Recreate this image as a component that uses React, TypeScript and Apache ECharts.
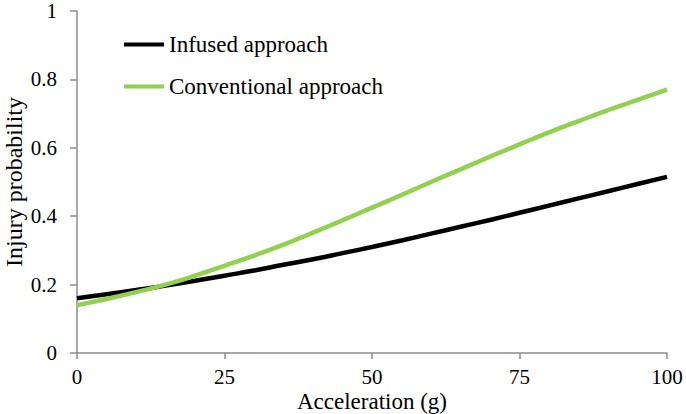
import React, { useEffect, useRef } from "react";
import * as echarts from "echarts";

const accel = [0, 5, 10, 15, 20, 25, 30, 35, 40, 45, 50, 55, 60, 65, 70, 75, 80, 85, 90, 95, 100];
const infused = [0.16, 0.172, 0.184, 0.197, 0.211, 0.226, 0.241, 0.258, 0.274, 0.292, 0.31, 0.329, 0.349, 0.369, 0.389, 0.41, 0.431, 0.452, 0.473, 0.494, 0.515];
const conventional = [0.14, 0.158, 0.178, 0.2, 0.226, 0.255, 0.285, 0.317, 0.352, 0.388, 0.425, 0.462, 0.5, 0.537, 0.574, 0.61, 0.645, 0.678, 0.71, 0.74, 0.77];
const seriesNames = ["Infused approach", "Conventional approach"];

const FONT = "Liberation Serif";
const AXIS = "#8c8c8c";
const GREEN = "#92d050";

export default function App() {
  const ref = useRef<HTMLDivElement>(null);
  useEffect(() => {
    const chart = echarts.init(ref.current!, null, { renderer: "svg" });
    chart.setOption({
      animation: false,
      textStyle: { fontFamily: FONT },
      grid: { left: 77, right: 19, top: 11, bottom: 61, containLabel: false, outerBoundsMode: "none" },
      legend: {
        orient: "vertical",
        left: 119,
        top: 28,
        itemWidth: 40,
        itemHeight: 4,
        itemGap: 19,
        icon: "rect",
        textStyle: { fontFamily: FONT, fontSize: 23, color: "#000" },
        data: seriesNames,
      },
      xAxis: {
        type: "value",
        min: 0,
        max: 100,
        interval: 25,
        name: "Acceleration (g)",
        nameLocation: "middle",
        nameGap: 37,
        nameMoveOverlap: false,
        nameTextStyle: { fontFamily: FONT, fontSize: 23, color: "#000" },
        axisLine: { show: true, lineStyle: { color: AXIS, width: 1.5 } },
        axisTick: { show: true, length: 6, lineStyle: { color: AXIS, width: 1.5 } },
        axisLabel: { fontFamily: FONT, fontSize: 21, color: "#000", margin: 13 },
        splitLine: { show: false },
      },
      yAxis: {
        type: "value",
        min: 0,
        max: 1,
        interval: 0.2,
        name: "Injury probability",
        nameLocation: "middle",
        nameRotate: 90,
        nameGap: 51,
        nameMoveOverlap: false,
        nameTextStyle: { fontFamily: FONT, fontSize: 24, color: "#000" },
        axisLine: { show: true, lineStyle: { color: AXIS, width: 1.5 } },
        axisTick: { show: true, length: 7, lineStyle: { color: AXIS, width: 1.5 } },
        axisLabel: {
          fontFamily: FONT,
          fontSize: 21,
          color: "#000",
          margin: 20,
          formatter: (v: number) => String(Math.round(v * 10) / 10),
        },
        splitLine: { show: false },
      },
      series: [
        {
          name: seriesNames[0],
          type: "line",
          data: accel.map((x, i) => [x, infused[i]]),
          smooth: true,
          showSymbol: false,
          lineStyle: { color: "#000", width: 4.5 },
          itemStyle: { color: "#000" },
        },
        {
          name: seriesNames[1],
          type: "line",
          data: accel.map((x, i) => [x, conventional[i]]),
          smooth: true,
          showSymbol: false,
          lineStyle: { color: GREEN, width: 4.5 },
          itemStyle: { color: GREEN },
        },
      ],
    });
    return () => chart.dispose();
  }, []);
  return (
    <div
      ref={ref}
      style={{ position: "absolute", left: 0, top: 0, width: 686, height: 414, background: "#fff" }}
    />
  );
}
